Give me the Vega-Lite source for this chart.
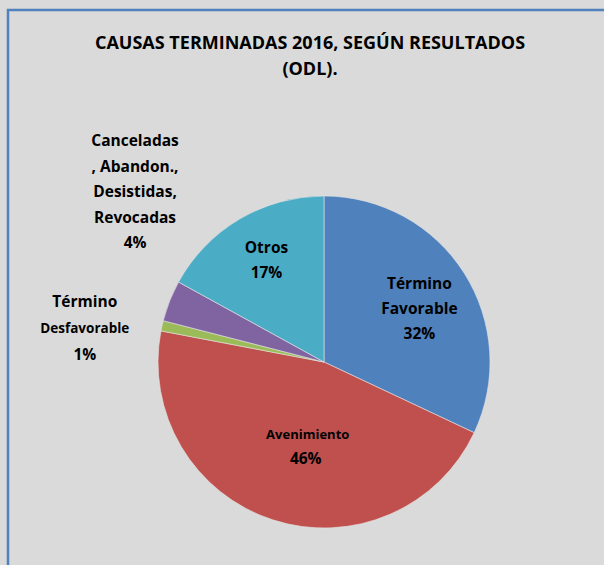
{
  "$schema": "https://vega.github.io/schema/vega-lite/v6.json",
  "width": 632,
  "height": 704,
  "autosize": {"type": "none"},
  "padding": {"left": 8, "top": 10, "right": -36, "bottom": -149},
  "background": "#dadada",
  "view": {"stroke": "#4f81bd", "strokeWidth": 2.5, "fill": "#dadada"},
  "config": {
    "view": {"stroke": "#4f81bd", "strokeWidth": 2.5, "fill": "#dadada"},
    "font": "Open Sans"
  },
  "title": {
    "text": ["CAUSAS TERMINADAS 2016, SEGÚN RESULTADOS", "(ODL)."],
    "fontSize": 18,
    "fontWeight": "bold",
    "font": "Open Sans",
    "color": "#000000",
    "lineHeight": 26,
    "offset": -69,
    "dx": -14,
    "anchor": "middle",
    "baseline": "top"
  },
  "data": {
    "values": [
      {"categoria": "Término Favorable", "valor": 32, "orden": 1, "interior": ["Término", "Favorable", "32%"], "aven1": "", "aven2": "", "canc": "", "desf1": "", "desf2": ""},
      {"categoria": "Avenimiento", "valor": 46, "orden": 2, "interior": "", "aven1": "Avenimiento", "aven2": "46%", "canc": "", "desf1": "", "desf2": ""},
      {"categoria": "Término Desfavorable", "valor": 1, "orden": 3, "interior": "", "aven1": "", "aven2": "", "canc": "", "desf1": ["Término", "1%"], "desf2": "Desfavorable"},
      {"categoria": "Canceladas, Abandon., Desistidas, Revocadas", "valor": 4, "orden": 4, "interior": "", "aven1": "", "aven2": "", "canc": ["Canceladas", ", Abandon.,", "Desistidas,", "Revocadas", "4%"], "desf1": "", "desf2": ""},
      {"categoria": "Otros", "valor": 17, "orden": 5, "interior": ["Otros", "17%"], "aven1": "", "aven2": "", "canc": "", "desf1": "", "desf2": ""}
    ]
  },
  "encoding": {
    "theta": {"field": "valor", "type": "quantitative", "stack": true},
    "order": {"field": "orden", "type": "quantitative"}
  },
  "layer": [
    {
      "mark": {"type": "arc", "outerRadius": 166, "stroke": "#e4e4e4", "strokeWidth": 0.6},
      "encoding": {
        "color": {
          "field": "categoria",
          "type": "nominal",
          "scale": {
            "domain": ["Término Favorable", "Avenimiento", "Término Desfavorable", "Canceladas, Abandon., Desistidas, Revocadas", "Otros"],
            "range": ["#4f81bd", "#c0504d", "#9bbb59", "#8064a2", "#4bacc6"]
          },
          "legend": null
        }
      }
    },
    {
      "mark": {"type": "text", "radius": 113, "dy": -17, "fontSize": 15.5, "fontWeight": "bold", "lineHeight": 25, "baseline": "middle", "align": "center", "color": "#000000"},
      "encoding": {"text": {"field": "interior", "type": "nominal"}}
    },
    {
      "mark": {"type": "text", "radius": 85, "dx": 10, "dy": -8, "fontSize": 13, "fontWeight": "bold", "baseline": "middle", "align": "center", "color": "#000000"},
      "encoding": {"text": {"field": "aven1", "type": "nominal"}}
    },
    {
      "mark": {"type": "text", "radius": 85, "dx": 8, "dy": 16, "fontSize": 15.5, "fontWeight": "bold", "baseline": "middle", "align": "center", "color": "#000000"},
      "encoding": {"text": {"field": "aven2", "type": "nominal"}}
    },
    {
      "mark": {"type": "text", "radius": 200, "dx": -3, "dy": -147, "fontSize": 15.5, "fontWeight": "bold", "lineHeight": 25.5, "baseline": "middle", "align": "center", "color": "#000000"},
      "encoding": {"text": {"field": "canc", "type": "nominal"}}
    },
    {
      "mark": {"type": "text", "radius": 200, "dx": -44, "dy": -16, "fontSize": 15.5, "fontWeight": "bold", "lineHeight": 53, "baseline": "middle", "align": "center", "color": "#000000"},
      "encoding": {"text": {"field": "desf1", "type": "nominal"}}
    },
    {
      "mark": {"type": "text", "radius": 200, "dx": -44, "dy": 11, "fontSize": 13.5, "fontWeight": "bold", "baseline": "middle", "align": "center", "color": "#000000"},
      "encoding": {"text": {"field": "desf2", "type": "nominal"}}
    }
  ]
}
